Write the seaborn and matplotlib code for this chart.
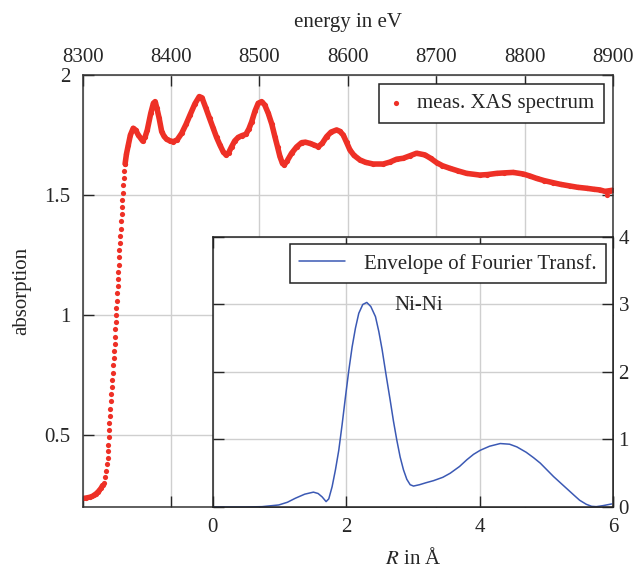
import matplotlib
matplotlib.use("Agg")
import matplotlib.pyplot as plt
import seaborn as sns
import pandas as pd

# measured XAS spectrum (energy in eV, absorption)
pre_energy = [8300.5, 8304, 8308, 8311, 8313, 8315, 8317, 8319, 8321, 8322.5]
pre_absorption = [0.236, 0.238, 0.241, 0.245, 0.25, 0.255, 0.262, 0.27, 0.28, 0.29]

edge_energy = [8324.0, 8325.5, 8326.5, 8327.4, 8328.1, 8328.6, 8329.0, 8329.4, 8329.9,
               8330.3, 8330.8, 8331.3, 8331.8, 8332.5, 8333.1, 8333.6, 8334.2, 8334.8,
               8335.2, 8335.6, 8336.1, 8336.5, 8336.9, 8337.3, 8337.7, 8338.2, 8338.6,
               8339.1, 8339.5, 8339.9, 8340.4, 8340.8, 8341.2, 8341.6, 8342.0, 8342.4,
               8342.9, 8343.5, 8344.2, 8344.6, 8345.0, 8345.4, 8345.9, 8346.5, 8347.2,
               8348.0]
edge_absorption = [0.30, 0.325, 0.35, 0.378, 0.405, 0.432, 0.46, 0.49, 0.52,
                   0.55, 0.58, 0.61, 0.64, 0.67, 0.70, 0.73, 0.76, 0.79,
                   0.82, 0.85, 0.88, 0.91, 0.94, 0.97, 1.00, 1.03, 1.06,
                   1.09, 1.12, 1.15, 1.18, 1.21, 1.24, 1.27, 1.30, 1.33,
                   1.36, 1.39, 1.42, 1.45, 1.48, 1.51, 1.54, 1.57, 1.60,
                   1.63]

post_energy = [8348.0, 8349.5, 8351.6, 8354, 8357.2, 8360, 8362.9, 8367.9, 8370.5, 8373.1,
               8377, 8380, 8382, 8384, 8386.5, 8389.4, 8392, 8395, 8398.5, 8402.5,
               8407, 8412, 8417, 8421.4, 8427, 8431.9, 8435, 8439.5, 8443.5, 8447.7,
               8451.5, 8455.3, 8459, 8462.1, 8465, 8468.5, 8472, 8476, 8480, 8484.7,
               8488, 8491.2, 8495, 8498.6, 8502.5, 8506, 8510, 8514, 8517.5, 8520.5,
               8523.2, 8526, 8528, 8531, 8536.4, 8542, 8547.7, 8552, 8557.1, 8562,
               8566.5, 8571, 8576, 8581, 8587.3, 8591, 8594.8, 8598.5, 8602.4, 8607,
               8613.7, 8620, 8628.7, 8640, 8647.6, 8655.2, 8662.7, 8670, 8677.8, 8687.2,
               8694, 8700.4, 8707, 8715.5, 8725, 8734.4, 8749.4, 8758, 8768.3, 8777,
               8787.1, 8798.4, 8806, 8813.6, 8822, 8832.4, 8841, 8851.2, 8860, 8870.1,
               8878, 8885.2, 8891, 8896.5, 8900]
post_absorption = [1.63, 1.67, 1.708, 1.75, 1.778, 1.77, 1.75, 1.725, 1.74, 1.771,
                   1.84, 1.882, 1.889, 1.861, 1.82, 1.764, 1.745, 1.732, 1.726, 1.722,
                   1.73, 1.757, 1.795, 1.833, 1.88, 1.91, 1.905, 1.861, 1.82, 1.778,
                   1.74, 1.708, 1.68, 1.667, 1.675, 1.701, 1.725, 1.74, 1.747, 1.753,
                   1.775, 1.805, 1.85, 1.882, 1.889, 1.875, 1.84, 1.795, 1.743, 1.70,
                   1.66, 1.632, 1.625, 1.64, 1.674, 1.70, 1.718, 1.72, 1.715, 1.708,
                   1.701, 1.715, 1.743, 1.762, 1.771, 1.765, 1.75, 1.72, 1.6875, 1.665,
                   1.646, 1.636, 1.629, 1.629, 1.637, 1.649, 1.653, 1.663, 1.674, 1.667,
                   1.652, 1.635, 1.622, 1.611, 1.60, 1.59, 1.583, 1.585, 1.59, 1.592,
                   1.594, 1.5875, 1.579, 1.569, 1.56, 1.551, 1.544, 1.5375, 1.532, 1.528,
                   1.524, 1.521, 1.515, 1.518, 1.52]
outlier_energy = [8893]
outlier_absorption = [1.50]

# envelope of the Fourier transform (R in Angstrom)
r_values = [0.0, 0.5, 0.74, 0.99, 1.12, 1.24, 1.38, 1.51, 1.58, 1.64,
            1.70, 1.74, 1.79, 1.84, 1.89, 1.94, 1.99, 2.04, 2.09, 2.14,
            2.19, 2.25, 2.31, 2.37, 2.44, 2.49, 2.54, 2.60, 2.66, 2.71,
            2.76, 2.81, 2.86, 2.91, 2.96, 3.01, 3.10, 3.20, 3.31, 3.45,
            3.56, 3.70, 3.81, 3.91, 4.01, 4.15, 4.31, 4.45, 4.56, 4.70,
            4.81, 4.91, 5.01, 5.11, 5.21, 5.31, 5.41, 5.50, 5.60, 5.68,
            5.75, 5.85, 5.98]
ft_envelope = [0.0, 0.0, 0.005, 0.03, 0.07, 0.13, 0.19, 0.22, 0.20, 0.15,
               0.08, 0.12, 0.30, 0.55, 0.84, 1.22, 1.63, 2.02, 2.37, 2.65,
               2.87, 3.0, 3.03, 2.97, 2.82, 2.6, 2.33, 1.95, 1.585, 1.27,
               0.99, 0.74, 0.55, 0.41, 0.33, 0.31, 0.33, 0.36, 0.39, 0.44,
               0.50, 0.60, 0.70, 0.78, 0.84, 0.90, 0.94, 0.93, 0.89, 0.81,
               0.73, 0.65, 0.55, 0.45, 0.36, 0.27, 0.18, 0.10, 0.04, 0.01,
               0.005, 0.02, 0.045]

red = "#ee3026"
blue = "#3b59b4"
grid_c = "#cfcfcf"

sns.set_style("white")
plt.rcParams["font.family"] = ["Liberation Serif", "DejaVu Serif"]
plt.rcParams["mathtext.fontset"] = "stix"
plt.rcParams["font.size"] = 15

fig = plt.figure(figsize=(6.36, 5.71), dpi=100)
ax = fig.add_axes([0.130, 0.1121, 0.8338, 0.7566])

df_pre = pd.DataFrame({"E": pre_energy, "A": pre_absorption})
df_edge = pd.DataFrame({"E": edge_energy, "A": edge_absorption})
df_post = pd.DataFrame({"E": post_energy, "A": post_absorption})
df_all = pd.concat([df_pre, df_edge, df_post,
                    pd.DataFrame({"E": outlier_energy, "A": outlier_absorption})])

sns.lineplot(data=df_pre, x="E", y="A", color=red, linewidth=3.8, ax=ax, sort=False)
sns.lineplot(data=df_post, x="E", y="A", color=red, linewidth=4.0, ax=ax, sort=False)
sns.scatterplot(data=df_all, x="E", y="A", color=red, s=14, linewidth=0, ax=ax,
                label="meas. XAS spectrum")

ax.set_xlim(8300, 8900)
ax.set_ylim(0.2, 2)
ax.set_xticks(range(8300, 8901, 100))
ax.set_yticks([0.5, 1, 1.5, 2], labels=["0.5", "1", "1.5", "2"])
ax.grid(True, color=grid_c, linewidth=1)
ax.set_axisbelow(True)
ax.tick_params(axis="x", direction="in", top=True, bottom=True, labeltop=True,
               labelbottom=False, length=8, width=1, pad=6, labelsize=15)
ax.tick_params(axis="y", direction="in", left=True, right=True, length=8, width=1,
               pad=9, labelsize=15)
ax.xaxis.set_label_position("top")
ax.set_xlabel("energy in eV", fontsize=15, labelpad=15)
ax.set_ylabel("absorption", fontsize=15, labelpad=9)
for s in ax.spines.values():
    s.set_color("#333333")
    s.set_linewidth(1.1)
leg = ax.legend(loc="upper right", bbox_to_anchor=(1, 1), borderaxespad=0.45,
                fancybox=False, edgecolor="#222222", framealpha=1, handlelength=0.8,
                handletextpad=0.6, borderpad=0.45, markerscale=1.0, fontsize=15)
leg.get_frame().set_linewidth(1.1)

# inset: Fourier transform
ax2 = fig.add_axes([0.3344, 0.1121, 0.6294, 0.4729])
ax2.set_facecolor("white")
df_ft = pd.DataFrame({"R": r_values, "FT": ft_envelope})
sns.lineplot(data=df_ft, x="R", y="FT", color=blue, linewidth=1.1, ax=ax2,
             label="Envelope of Fourier Transf.")
ax2.set_xlim(0, 6)
ax2.set_ylim(0, 4)
ax2.set_xticks([0, 2, 4, 6])
ax2.set_yticks([0, 1, 2, 3, 4])
ax2.grid(True, color=grid_c, linewidth=1)
ax2.set_axisbelow(True)
ax2.tick_params(axis="x", direction="in", top=True, bottom=True, length=8, width=1,
                pad=8, labelsize=15)
ax2.tick_params(axis="y", direction="in", left=True, right=True, labelleft=False,
                labelright=True, length=8, width=1, pad=4, labelsize=15)
ax2.set_xlabel("$R$ in Å", fontsize=15, labelpad=8)
ax2.set_ylabel("")
for s in ax2.spines.values():
    s.set_color("#222222")
    s.set_linewidth(1.1)
ax2.text(3.09, 2.98, "Ni-Ni", ha="center", va="center", fontsize=15)
leg2 = ax2.legend(loc="upper right", bbox_to_anchor=(1, 1), borderaxespad=0.35,
                  fancybox=False, edgecolor="#222222", framealpha=1, handlelength=2.2,
                  handletextpad=0.9, borderpad=0.45, fontsize=15)
leg2.get_frame().set_linewidth(1.1)

fig.savefig("out.png", dpi=100)
